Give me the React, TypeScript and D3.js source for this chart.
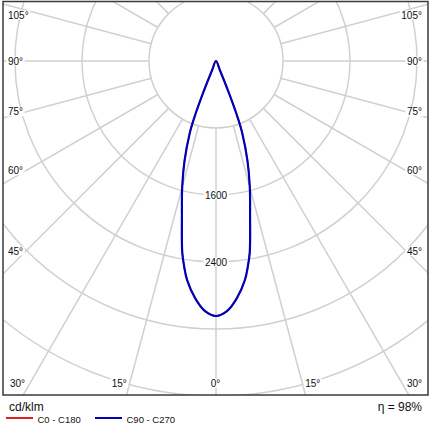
import React from 'react'
import * as d3 from 'd3'

// luminous intensity (cd/klm) per angle from nadir, symmetric
const ANGLES = [0, 2.5, 5, 7.5, 8.75, 10, 12.5, 15, 17.5, 20, 21, 22, 23, 24]
const C0_C180 = [3045, 2990, 2845, 2640, 2490, 2320, 1880, 1560, 1250, 915, 720, 420, 120, 0]
const C90_C270 = [3045, 2990, 2845, 2640, 2490, 2320, 1880, 1560, 1250, 915, 720, 420, 120, 0]

const RINGS = [800, 1600, 2400, 3200, 4000, 4800]
const RING_LABELS = [1600, 2400]
const SPOKES = d3.range(0, 181, 15)
const SIDE_LABELS = [105, 90, 75, 60, 45]
const BOTTOM_LABELS = [30, 15, 0]

const W = 430
const H = 430
const FONT = 'Liberation Sans, Arial, sans-serif'
const GRID = '#d0d0d0'

export default function App() {
  const svgRef = React.useRef<SVGSVGElement>(null)

  React.useEffect(() => {
    const svg = d3.select(svgRef.current!)
    svg.selectAll('*').remove()

    const frame = { x0: 3, y0: 1.5, x1: 428, y1: 395 }
    const cx = 216, cy = 61
    const r = d3.scaleLinear().domain([0, 800]).range([0, 67])
    const rad = (deg: number) => deg * Math.PI / 180

    svg.append('rect').attr('width', W).attr('height', H).attr('fill', '#fff')

    svg.append('defs').append('clipPath').attr('id', 'frameClip')
      .append('rect')
      .attr('x', frame.x0).attr('y', frame.y0)
      .attr('width', frame.x1 - frame.x0).attr('height', frame.y1 - frame.y0)

    const plot = svg.append('g').attr('clip-path', 'url(#frameClip)')
    const g = plot.append('g').attr('transform', `translate(${cx},${cy})`)

    // rings
    g.selectAll('circle.ring').data(RINGS).enter().append('circle')
      .attr('class', 'ring')
      .attr('r', d => r(d))
      .attr('fill', 'none').attr('stroke', GRID).attr('stroke-width', 1.5)

    // spokes every 15°, both sides, starting at first ring
    const spokeData: number[] = []
    SPOKES.forEach(a => { spokeData.push(a); if (a > 0 && a < 180) spokeData.push(-a) })
    g.selectAll('line.spoke').data(spokeData).enter().append('line')
      .attr('class', 'spoke')
      .attr('x1', d => r(800) * Math.sin(rad(d)))
      .attr('y1', d => r(800) * Math.cos(rad(d)))
      .attr('x2', d => r(8000) * Math.sin(rad(d)))
      .attr('y2', d => r(8000) * Math.cos(rad(d)))
      .attr('stroke', GRID).attr('stroke-width', 1.5)

    // label with white box behind
    const label = (parent: any, x: number, y: number, text: string, anchor: string, size: number) => {
      const lg = parent.append('g')
      const bg = lg.append('rect').attr('fill', '#fff')
      const t = lg.append('text')
        .attr('x', x).attr('y', y)
        .attr('text-anchor', anchor)
        .attr('dominant-baseline', 'central')
        .attr('font-family', FONT).attr('font-size', size).attr('fill', '#111')
        .text(text)
      const bb = (t.node() as SVGTextElement).getBBox()
      bg.attr('x', bb.x - 1.5).attr('y', bb.y + 1).attr('width', bb.width + 3).attr('height', bb.height - 2)
    }

    // ring labels on the 0° axis
    RING_LABELS.forEach(v => label(g, 0, r(v), String(v), 'middle', 10))

    // curves (mirrored about the 0° axis)
    const line = d3.lineRadial<[number, number]>()
      .angle(d => Math.PI - rad(d[0]))
      .radius(d => r(d[1]))
      .curve(d3.curveCatmullRomClosed.alpha(0.5))
    const toPts = (vals: number[]) => {
      const right = ANGLES.map((a, i) => [a, vals[i]] as [number, number])
      const left = right.slice(1, -1).reverse().map(d => [-d[0], d[1]] as [number, number])
      return right.concat(left)
    }
    const series = [
      { vals: C0_C180, color: '#e02020', width: 1.4 },
      { vals: C90_C270, color: '#0000b4', width: 2.2 },
    ]
    series.forEach(s => {
      g.append('path')
        .attr('d', line(toPts(s.vals)))
        .attr('fill', 'none').attr('stroke', s.color).attr('stroke-width', s.width)
        .attr('stroke-linejoin', 'round')
    })

    // angle labels on the sides
    const sideY = (a: number) => Math.max(15, cy + (cx - 26) / Math.tan(rad(a)))
    SIDE_LABELS.forEach(a => {
      const y = a === 90 ? cy : sideY(a)
      label(svg, 8, y, `${a}°`, 'start', 10)
      label(svg, 422, y, `${a}°`, 'end', 10)
    })
    // angle labels on the bottom
    BOTTOM_LABELS.forEach(a => {
      const dx = (390 - cy) * Math.tan(rad(a))
      if (a === 0) { label(svg, cx - 0.5, 383, '0°', 'middle', 10); return }
      label(svg, cx - dx - 1, 383, `${a}°`, 'end', 10)
      label(svg, cx + dx + 1, 383, `${a}°`, 'start', 10)
    })

    // frame
    svg.append('rect')
      .attr('x', frame.x0).attr('y', frame.y0)
      .attr('width', frame.x1 - frame.x0).attr('height', frame.y1 - frame.y0)
      .attr('fill', 'none').attr('stroke', '#3a3a3a').attr('stroke-width', 1.5)

    // footer
    svg.append('text').attr('x', 9).attr('y', 407).attr('dominant-baseline', 'central')
      .attr('font-family', FONT).attr('font-size', 12).attr('fill', '#111').text('cd/klm')
    svg.append('text').attr('x', 422).attr('y', 407).attr('dominant-baseline', 'central')
      .attr('text-anchor', 'end')
      .attr('font-family', FONT).attr('font-size', 12).attr('fill', '#111').text('η = 98%')

    const legend = [
      { name: 'C0 - C180', color: '#e02020', x: 6 },
      { name: 'C90 - C270', color: '#0000b4', x: 95 },
    ]
    legend.forEach(l => {
      svg.append('line').attr('x1', l.x).attr('x2', l.x + 27).attr('y1', 418).attr('y2', 418)
        .attr('stroke', l.color).attr('stroke-width', 2)
      svg.append('text').attr('x', l.x + 31.5).attr('y', 419).attr('dominant-baseline', 'central')
        .attr('font-family', FONT).attr('font-size', 9.5).attr('fill', '#111').text(l.name)
    })
  }, [])

  return <svg ref={svgRef} width={W} height={H} style={{ position: 'absolute', left: 0, top: 0 }} />
}
